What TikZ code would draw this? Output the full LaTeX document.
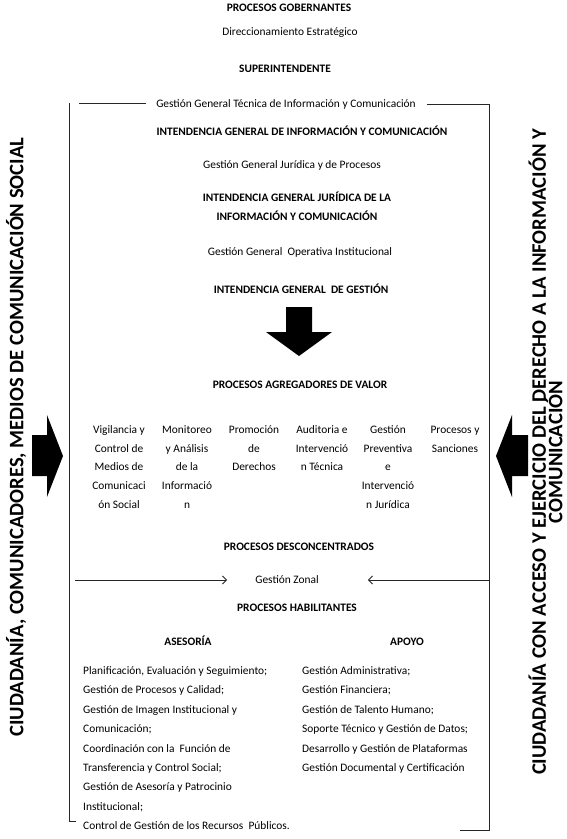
\documentclass[tikz,border=0pt]{standalone}
\usepackage{fontspec}
\setmainfont{Carlito}
\usetikzlibrary{arrows.meta}
\begin{document}
\begin{tikzpicture}[x=1pt,y=-1pt,
  txt/.style={inner sep=0pt, anchor=base, font=\fontsize{11.4}{13}\selectfont},
  btxt/.style={txt, font=\fontsize{11.4}{13}\selectfont\bfseries},
  col/.style={inner sep=0pt, anchor=base, align=center, font=\fontsize{11.4}{18.7}\selectfont},
  lst/.style={inner sep=0pt, anchor=base west, align=left, font=\fontsize{11.4}{19.4}\selectfont},
  side/.style={inner sep=0pt, anchor=center, rotate=90, align=center, font=\fontsize{20.6}{16.5}\selectfont\bfseries},
  frame/.style={draw=black!85, line width=0.9pt},
  blk/.style={fill=black, draw=none},
  zarrow/.style={frame, -{Straight Barb[length=4pt,width=8pt]}}]
\lineskiplimit=-30pt
\useasboundingbox (0,0) rectangle (567,839);
\fill[white] (0,0) rectangle (567,839);

% top texts (multi-line nodes are anchored at the baseline of their last line)
\node[btxt] (gob) at (289,11.5) {PROCESOS GOBERNANTES};
\node[txt] (dir) at (290,35.5) {Direccionamiento Estratégico};
\node[btxt] (sup) at (285,72.5) {SUPERINTENDENTE};
\node[txt] (ggt) at (286,107.5) {Gestión General Técnica de Información y Comunicación};
\node[btxt] (igic) at (302,135.5) {INTENDENCIA GENERAL DE INFORMACIÓN Y COMUNICACIÓN};
\node[txt] (ggjp) at (292,168.5) {Gestión General Jurídica y de Procesos};
\node[col, font=\fontsize{11.4}{19}\selectfont\bfseries] (igj) at (297,220.5) {INTENDENCIA GENERAL JURÍDICA DE LA\\INFORMACIÓN Y COMUNICACIÓN};
\node[txt] (ggoi) at (300,255.5) {Gestión General~ Operativa Institucional};
\node[btxt] (igg) at (301,293.5) {INTENDENCIA GENERAL~ DE GESTIÓN};

% down arrow
\fill[blk] (286,307) -- (312,307) -- (312,332) -- (332,332) -- (299,356) -- (266,332) -- (286,332) -- cycle;

\node[btxt] (pav) at (300,388.5) {PROCESOS AGREGADORES DE VALOR};

% columns
\node[col] (c1) at (119,508.3) {Vigilancia y\\Control de\\Medios de\\Comunicaci\\ón Social};
\node[col] (c2) at (187,508.3) {Monitoreo\\y Análisis\\de la\\Informació\\n};
\node[col] (c3) at (254,470.9) {Promoción\\de\\Derechos};
\node[col] (c4) at (322,470.9) {Auditoria e\\Intervenció\\n Técnica};
\node[col] (c5) at (388,508.3) {Gestión\\Preventiva\\e\\Intervenció\\n Jurídica};
\node[col] (c6) at (455,452.2) {Procesos y\\Sanciones};

% side arrows
\fill[blk] (32,435) -- (47,435) -- (47,415) -- (63,456) -- (47,497) -- (47,476) -- (32,476) -- cycle;
\fill[blk] (528,435) -- (512,435) -- (512,415) -- (496,456) -- (512,497) -- (512,476) -- (528,476) -- cycle;

\node[btxt] (pdc) at (299,550.5) {PROCESOS DESCONCENTRADOS};
\node[txt] (gz) at (287,583.5) {Gestión Zonal};
\node[btxt] (phab) at (297,611.5) {PROCESOS HABILITANTES};
\node[btxt] (ase) at (188,645.5) {ASESORÍA};
\node[btxt] (apo) at (407,645.5) {APOYO};

\node[lst] (lase) at (83,829.7) {Planificación, Evaluación y Seguimiento;\\
Gestión de Procesos y Calidad;\\
Gestión de Imagen Institucional y\\
Comunicación;\\
Coordinación con la~ Función de\\
Transferencia y Control Social;\\
Gestión de Asesoría y Patrocinio\\
Institucional;\\
Control de Gestión de los Recursos~ Públicos.};
\node[lst] (lapo) at (302,771.5) {Gestión Administrativa;\\
Gestión Financiera;\\
Gestión de Talento Humano;\\
Soporte Técnico y Gestión de Datos;\\
Desarrollo y Gestión de Plataformas\\
Gestión Documental y Certificación};

% side texts
\node[side] (sl) at (16,437) {CIUDADANÍA, COMUNICADORES, MEDIOS DE COMUNICACIÓN SOCIAL};
\node[side] (sr) at (545.5,452) {CIUDADANÍA CON ACCESO Y EJERCICIO DEL DERECHO A LA INFORMACIÓN Y\\COMUNICACIÓN};

% frame
\coordinate (ftl) at (69,103);
\coordinate (fbl) at (69,821);
\coordinate (fblh) at (76,821);
\coordinate (tla) at (79,103);
\coordinate (ftr) at (489,104);
\coordinate (fbr) at (489,830);
\coordinate (fbrh) at (460,830);
\draw[frame] (ftl) -- (fbl) -- (fblh);
\draw[frame] (tla) -- ([xshift=-10pt]ggt.west |- tla);
\draw[frame] ([xshift=11pt]ggt.east |- ftr) -- (ftr) -- (fbr) -- (fbrh);

% zonal arrows
\coordinate (zl) at (75,580);
\coordinate (zr) at (489,580);
\draw[zarrow] (zl) -- ([xshift=-28pt]gz.west |- zl);
\draw[zarrow] (zr) -- ([xshift=49pt]gz.east |- zr);
\end{tikzpicture}
\end{document}
